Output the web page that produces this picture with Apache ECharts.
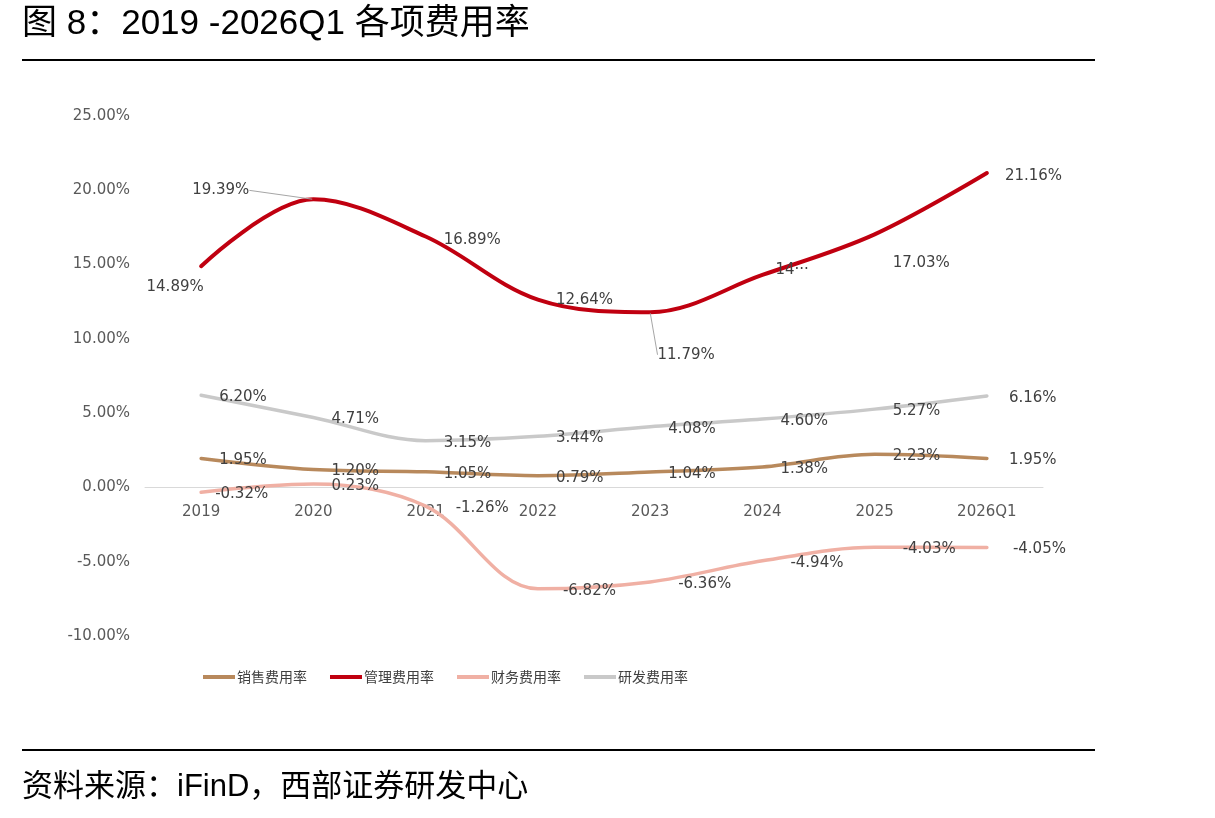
<!DOCTYPE html>
<html>
<head>
<meta charset="utf-8">
<script src="https://cdn.jsdelivr.net/npm/echarts@6/dist/echarts.min.js"></script>
<style>
  html, body { margin: 0; padding: 0; background: #fff; }
  #chart { width: 1215px; height: 818px; }
</style>
</head>
<body>
<div id="chart"></div>
<script>
const categories = ['2019', '2020', '2021', '2022', '2023', '2024', '2025', '2026Q1']
const sellingRate = [1.95, 1.20, 1.05, 0.79, 1.04, 1.38, 2.23, 1.95]
const adminRate = [14.89, 19.39, 16.89, 12.64, 11.79, 14.30, 17.03, 21.16]
const financeRate = [-0.32, 0.23, -1.26, -6.82, -6.36, -4.94, -4.03, -4.05]
const rdRate = [6.20, 4.71, 3.15, 3.44, 4.08, 4.60, 5.27, 6.16]
const yTicks = [-10, -5, 0, 5, 10, 15, 20, 25]

const FONT = '"DejaVu Sans", "Noto Sans CJK SC", sans-serif'
const CJK = '"Liberation Sans", "Noto Sans CJK SC", sans-serif'
const pct = p => Number(p.value).toFixed(2) + '%'

const baseLabel = {
    show: true,
    position: 'right',
    distance: 17,
    color: '#404040',
    fontSize: 15,
    fontFamily: FONT,
    formatter: pct
}

const leader = { show: true, lineStyle: { color: '#a6a6a6', width: 1 } }

// label tweaks per point, last point of every line sits a bit further out
const withLabels = (values, tweaks) => values.map((v, i) => {
    const t = (tweaks && tweaks[i]) || {}
    const item = { value: v, label: Object.assign(i === values.length - 1 ? { distance: 21 } : {}, t.label || {}) }
    if (t.labelLine) item.labelLine = t.labelLine
    return item
})

const adminItems = withLabels(adminRate, {
    0: { label: { position: 'bottom' } },
    1: { label: { position: 'left', distance: 8 }, labelLine: leader },
    4: { label: { position: 'bottom' }, labelLine: leader },
    5: { label: { width: 36, overflow: 'truncate', ellipsis: '···', distance: 12 } },
    7: { label: { distance: 17 } }
})
const adminShift = {
    0: { dx: -26, dy: -5 },
    1: { dx: -55, dy: -9 },
    2: { dy: 4 },
    4: { dx: 36, dy: 17 },
    5: { dy: -5 },
    6: { dy: 29 },
    7: { dy: 3 }
}
const financeItems = withLabels(financeRate, {
    0: { label: { distance: 13 } },
    2: { label: { distance: 29 } },
    3: { label: { distance: 24 } },
    4: { label: { distance: 27 } },
    5: { label: { distance: 27 } },
    6: { label: { distance: 27 } },
    7: { label: { distance: 25 } }
})

const lineSeries = (name, data, color, width, z, extra) => Object.assign({
    name, type: 'line', data, smooth: 0.35,
    symbol: 'circle', symbolSize: 2, showSymbol: true,
    color, itemStyle: { color, borderWidth: 0 },
    lineStyle: { width, color, cap: 'round' },
    label: baseLabel,
    labelLayout: { dy: 2 },
    z
}, extra || {})

const chart = echarts.init(document.getElementById('chart'), null, { renderer: 'canvas' })

chart.setOption({
    backgroundColor: '#fff',
    animation: false,
    title: {
        text: '图 8：2019 -2026Q1 各项费用率',
        left: 22,
        top: 7,
        padding: 0,
        textStyle: { fontSize: 35, fontWeight: 'normal', color: '#000', fontFamily: CJK }
    },
    graphic: [
        { type: 'line', shape: { x1: 22, y1: 60, x2: 1095, y2: 60 }, style: { stroke: '#000', lineWidth: 2 } },
        { type: 'line', shape: { x1: 22, y1: 750, x2: 1095, y2: 750 }, style: { stroke: '#000', lineWidth: 2 } },
        {
            type: 'text', left: 22, top: 772,
            style: { text: '资料来源：iFinD，西部证券研发中心', fill: '#000', font: '31px ' + CJK }
        }
    ],
    legend: {
        left: 203,
        top: 670,
        padding: 0,
        icon: 'rect',
        itemWidth: 32,
        itemHeight: 4,
        itemGap: 23,
        textStyle: { fontSize: 14, color: '#404040', fontFamily: '"Noto Sans CJK SC", sans-serif', padding: [0, 0, 0, -3] }
    },
    grid: { left: 145, right: 172, top: 116, bottom: 182, containLabel: false },
    xAxis: {
        type: 'category',
        data: categories,
        axisLine: { onZero: true, lineStyle: { color: '#d9d9d9', width: 1 } },
        axisTick: { show: false },
        axisLabel: { color: '#595959', fontSize: 15, fontFamily: FONT, margin: -131 },
        splitLine: { show: false }
    },
    yAxis: {
        type: 'value',
        min: yTicks[0],
        max: yTicks[yTicks.length - 1],
        interval: 5,
        axisLine: { show: false },
        axisTick: { show: false },
        splitLine: { show: false },
        axisLabel: {
            color: '#595959', fontSize: 15, fontFamily: FONT, margin: 15,
            formatter: v => v.toFixed(2) + '%'
        }
    },
    series: [
        lineSeries('销售费用率', withLabels(sellingRate), '#b8895c', 3.5, 3),
        lineSeries('管理费用率', adminItems, '#c00010', 4, 4, {
            labelLayout: p => adminShift[p.dataIndex] || {}
        }),
        lineSeries('财务费用率', financeItems, '#f0b0a4', 3.5, 2),
        lineSeries('研发费用率', withLabels(rdRate), '#c9c9c9', 3.5, 1)
    ]
})
</script>
</body>
</html>
